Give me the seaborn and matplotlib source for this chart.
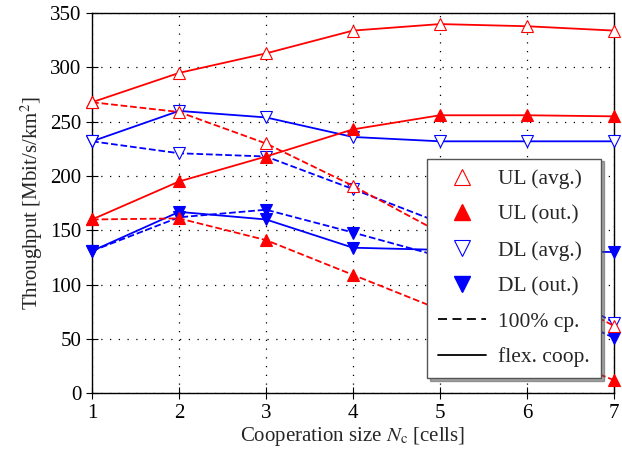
import pandas as pd
import matplotlib
matplotlib.use('Agg')
import matplotlib.pyplot as plt
import seaborn as sns
from matplotlib.lines import Line2D

# cooperation size
nc = [1, 2, 3, 4, 5, 6, 7]

# flexible cooperation (solid)
ul_avg_flex = [268, 295, 313, 334, 340, 338, 334]
ul_out_flex = [160, 195, 218, 243, 256, 256, 255]
dl_avg_flex = [232, 260, 254, 236, 232, 232, 232]
dl_out_flex = [131, 167, 160, 134, 132, 131, 130]

# 100% cooperation (dashed)
ul_avg_full = [268, 259, 230, 191, 148, 104, 62]
ul_out_full = [160, 161, 141, 109, 77, 44, 12]
dl_avg_full = [232, 221, 218, 188, 157, 110, 65]
dl_out_full = [131, 162, 169, 148, 126, 88, 51]

series = [
    ('UL (avg.)', 'flex', ul_avg_flex), ('UL (out.)', 'flex', ul_out_flex),
    ('DL (avg.)', 'flex', dl_avg_flex), ('DL (out.)', 'flex', dl_out_flex),
    ('UL (avg.)', 'full', ul_avg_full), ('UL (out.)', 'full', ul_out_full),
    ('DL (avg.)', 'full', dl_avg_full), ('DL (out.)', 'full', dl_out_full),
]
rows = []
for name, mode, vals in series:
    for x, v in zip(nc, vals):
        rows.append({'Nc': x, 'thr': v, 'name': name, 'mode': mode})
df = pd.DataFrame(rows)

sns.set_style('white')
plt.rcParams['font.family'] = ['Liberation Serif', 'DejaVu Serif']
plt.rcParams['mathtext.fontset'] = 'stix'

style = {
    'UL (avg.)': dict(color='#ff0000', marker='^', mfc='white'),
    'UL (out.)': dict(color='#ff0000', marker='^', mfc='#ff0000'),
    'DL (avg.)': dict(color='#0000ff', marker='v', mfc='white'),
    'DL (out.)': dict(color='#0000ff', marker='v', mfc='#0000ff'),
}

fig = plt.figure(figsize=(6.22, 4.72), dpi=100)
ax = fig.add_axes([0.148, 0.167, 0.839, 0.805])

for (name, mode), d in df.groupby(['name', 'mode']):
    s = style[name]
    sns.lineplot(data=d, x='Nc', y='thr', ax=ax, color=s['color'],
                 linestyle='--' if mode == 'full' else '-', linewidth=1.3,
                 marker=s['marker'], markersize=9, markerfacecolor=s['mfc'],
                 markeredgecolor=s['color'], markeredgewidth=0.8, legend=False,
                 dashes=(5, 3) if mode == 'full' else '', clip_on=False, zorder=3)

ax.set_xlim(1, 7)
ax.set_ylim(0, 350)
ax.set_xticks(nc)
ax.set_yticks(range(0, 351, 50))
ax.grid(True, linestyle=(0, (1, 6)), color='black', linewidth=0.9)
for sp in ax.spines.values():
    sp.set_color('black')
    sp.set_linewidth(1.0)
ax.tick_params(axis='both', direction='inout', length=8, width=0.8,
               labelsize=15, colors='black', bottom=True, left=True)
ax.set_xlabel('Cooperation size $N_\\mathrm{c}$ [cells]', fontsize=15, labelpad=2)
ax.set_ylabel('Throughput [Mbit/s/km$^2$]', fontsize=15, labelpad=4)

handles = [
    Line2D([], [], linestyle='none', marker='^', color='#ff0000', mfc='white', markersize=11, mew=0.8),
    Line2D([], [], linestyle='none', marker='^', color='#ff0000', mfc='#ff0000', markersize=11),
    Line2D([], [], linestyle='none', marker='v', color='#0000ff', mfc='white', markersize=11, mew=0.8),
    Line2D([], [], linestyle='none', marker='v', color='#0000ff', mfc='#0000ff', markersize=11),
    Line2D([], [], linestyle='--', dashes=(5, 3), color='black', linewidth=1.3),
    Line2D([], [], linestyle='-', color='black', linewidth=1.3),
]
labels = ['UL (avg.)', 'UL (out.)', 'DL (avg.)', 'DL (out.)', '100% cp.', 'flex. coop.']
leg = ax.legend(handles, labels, loc='lower right', bbox_to_anchor=(0.975, 0.04),
                borderaxespad=0, fontsize=15.5, frameon=True, fancybox=False,
                shadow=True, edgecolor='#555555', framealpha=1, handlelength=2.2,
                labelspacing=0.72, borderpad=0.5, handletextpad=0.6)
leg.get_frame().set_linewidth(1.0)
leg.set_zorder(5)

fig.savefig('out.png', dpi=100)
